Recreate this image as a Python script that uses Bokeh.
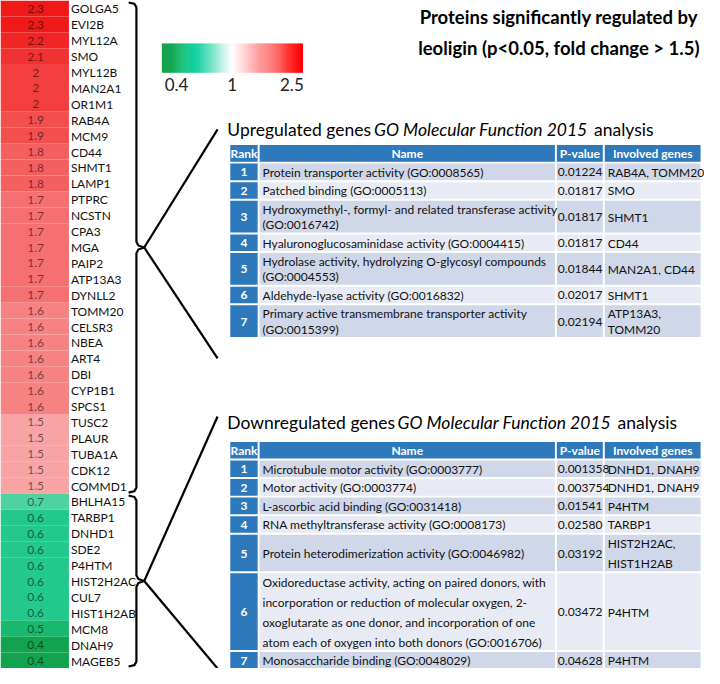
from bokeh.plotting import figure
from bokeh.core.properties import value
from bokeh.embed import file_html
from bokeh.resources import INLINE
import numpy as np

# ---------------- data ----------------
up_genes = ["GOLGA5", "EVI2B", "MYL12A", "SMO", "MYL12B", "MAN2A1", "OR1M1", "RAB4A", "MCM9",
            "CD44", "SHMT1", "LAMP1", "PTPRC", "NCSTN", "CPA3", "MGA", "PAIP2", "ATP13A3",
            "DYNLL2", "TOMM20", "CELSR3", "NBEA", "ART4", "DBI", "CYP1B1", "SPCS1", "TUSC2",
            "PLAUR", "TUBA1A", "CDK12", "COMMD1"]
up_fc = [2.3, 2.3, 2.2, 2.1, 2, 2, 2, 1.9, 1.9, 1.8, 1.8, 1.8, 1.7, 1.7, 1.7, 1.7, 1.7, 1.7,
         1.7, 1.6, 1.6, 1.6, 1.6, 1.6, 1.6, 1.6, 1.5, 1.5, 1.5, 1.5, 1.5]
down_genes = ["BHLHA15", "TARBP1", "DNHD1", "SDE2", "P4HTM", "HIST2H2AC", "CUL7", "HIST1H2AB",
              "MCM8", "DNAH9", "MAGEB5"]
down_fc = [0.7, 0.6, 0.6, 0.6, 0.6, 0.6, 0.6, 0.6, 0.5, 0.4, 0.4]

scale_ticks = [0.4, 1, 2.5]

up_rank = [1, 2, 3, 4, 5, 6, 7]
up_name = ["Protein transporter activity (GO:0008565)",
           "Patched binding (GO:0005113)",
           "Hydroxymethyl-, formyl- and related transferase activity\n(GO:0016742)",
           "Hyaluronoglucosaminidase activity (GO:0004415)",
           "Hydrolase activity, hydrolyzing O-glycosyl compounds\n(GO:0004553)",
           "Aldehyde-lyase activity (GO:0016832)",
           "Primary active transmembrane transporter activity\n(GO:0015399)"]
up_pvalue = ["0.01224", "0.01817", "0.01817", "0.01817", "0.01844", "0.02017", "0.02194"]
up_involved = ["RAB4A, TOMM20", "SMO", "SHMT1", "CD44", "MAN2A1, CD44", "SHMT1",
               "ATP13A3,\nTOMM20"]

down_rank = [1, 2, 3, 4, 5, 6, 7]
down_name = ["Microtubule motor activity (GO:0003777)",
             "Motor activity (GO:0003774)",
             "L-ascorbic acid binding (GO:0031418)",
             "RNA methyltransferase activity (GO:0008173)",
             "Protein heterodimerization activity (GO:0046982)",
             "Oxidoreductase activity, acting on paired donors, with\nincorporation or reduction of molecular oxygen, 2-\noxoglutarate as one donor, and incorporation of one\natom each of oxygen into both donors (GO:0016706)",
             "Monosaccharide binding (GO:0048029)"]
down_pvalue = ["0.001358", "0.003754", "0.01541", "0.02580", "0.03192", "0.03472", "0.04628"]
down_involved = ["DNHD1, DNAH9", "DNHD1, DNAH9", "P4HTM", "TARBP1", "HIST2H2AC,\nHIST1H2AB",
                 "P4HTM", "P4HTM"]

table_headers = ["Rank", "Name", "P-value", "Involved genes"]

# ---------------- colour maps ----------------
_stops_v = [0.4, 0.5, 0.6, 0.7, 1.0, 1.5, 1.6, 2.0, 2.5]
_stops_rgb = np.array([[18, 163, 78], [24, 185, 110], [34, 200, 140], [78, 210, 162],
                       [255, 255, 255], [248, 164, 164], [246, 130, 130], [242, 62, 62],
                       [238, 0, 0]], dtype=float)


def fc_color(v):
    rgb = [np.interp(v, _stops_v, _stops_rgb[:, k]) for k in range(3)]
    return "#%02x%02x%02x" % tuple(int(round(c)) for c in rgb)


_bar_f = [0.0, 0.08, 0.22, 0.5, 1.0]
_bar_rgb = np.array([[22, 163, 74], [20, 170, 85], [0, 205, 150], [255, 255, 255], [255, 0, 0]],
                    dtype=float)


def bar_color(f):
    rgb = [np.interp(f, _bar_f, _bar_rgb[:, k]) for k in range(3)]
    return "#%02x%02x%02x" % tuple(int(round(c)) for c in rgb)


FONT = "Lato"

p = figure(width=704, height=668, x_range=(0, 720), y_range=(684, 0),
           output_backend="svg", toolbar_location=None,
           x_axis_location=None, y_axis_location=None, min_border=0)
p.grid.visible = False
p.outline_line_color = None
p.background_fill_color = "white"

# ---------------- heat-map column ----------------
genes = up_genes + down_genes
fcs = up_fc + down_fc
n = len(genes)
rh = 684.0 / n
tops = [i * rh for i in range(n)]
bots = [(i + 1) * rh for i in range(n)]
mids = [(i + 0.5) * rh + 0.5 for i in range(n)]
p.quad(left=0, right=70, top=tops, bottom=bots, fill_color=[fc_color(v) for v in fcs],
       line_color=None)
p.text(x=36, y=mids, text=[f"{v:g}" for v in fcs], text_align="center",
       text_baseline="middle", text_font=value(FONT), text_font_size="12px",
       text_color="black", text_alpha=0.55)
p.text(x=72, y=mids, text=genes, text_align="left", text_baseline="middle",
       text_font=value(FONT), text_font_size="12px", text_color="#111111")


# ---------------- brackets ----------------
def bracket(y0, y1):
    m = (y0 + y1) / 2
    xs = [131, 137, 139, 139, 141, 147, 141, 139, 139, 137, 131]
    ys = [y0, y0 + 1.5, y0 + 5, m - 6, m - 2, m, m + 2, m + 6, y1 - 5, y1 - 1.5, y1]
    p.line(xs, ys, line_color="black", line_width=2.2)
    return m


nu = len(up_genes)
m_up = bracket(tops[0] + 2, bots[nu - 1] - 1)
m_dn = bracket(tops[nu] + 2, bots[-1] - 2)

# ---------------- colour bar ----------------
cb_l, cb_r, cb_t, cb_b = 165, 309, 44, 74
nseg = 144
fr = np.linspace(0, 1, nseg)
w = (cb_r - cb_l) / nseg
p.quad(left=[cb_l + i * w for i in range(nseg)], right=[cb_l + (i + 1) * w + 0.4 for i in range(nseg)],
       top=cb_t, bottom=cb_b, fill_color=[bar_color(f) for f in fr], line_color=None)
tick_x = [cb_l + 15, (cb_l + cb_r) / 2, cb_r - 11]
p.text(x=tick_x, y=86, text=[f"{t:g}" for t in scale_ticks], text_align="center",
       text_baseline="middle", text_font=value(FONT), text_font_size="17px", text_color="#222222")

# ---------------- title ----------------
p.text(x=[571, 571], y=[17, 49],
       text=["Proteins significantly regulated by", "leoligin (p<0.05, fold change > 1.5)"],
       text_align="center", text_baseline="middle", text_font=value(FONT),
       text_font_size="18.5px", text_font_style="bold", text_color="black")


# ---------------- tables ----------------
cols = [(235, 263), (265, 567), (569, 616), (618, 716)]
HEAD_BLUE = "#2E78BC"
ROW_A = "#CFD7E8"
ROW_B = "#E8EBF3"
TFS = "12px"


def heading(y, first, x0, x_it, x_an):
    p.text(x=x0, y=y, text=[first], text_baseline="middle", text_font=value(FONT),
           text_font_size="17.5px", text_color="black")
    p.text(x=x_it, y=y, text=["GO Molecular Function 2015"], text_baseline="middle",
           text_font=value(FONT), text_font_size="17.5px", text_font_style="italic",
           text_color="black")
    p.text(x=x_an, y=y, text=["analysis"], text_baseline="middle", text_font=value(FONT),
           text_font_size="17.5px", text_color="black")


def table(top, ranks, names, pvals, invs, base_h, line_h):
    L, R, T, B, C = [], [], [], [], []
    hh = 17
    for (l, r) in cols:
        L.append(l); R.append(r); T.append(top); B.append(top + hh); C.append(HEAD_BLUE)
    y = top + hh + 2
    ymid = []
    tx, ty, tt = [], [], []
    for i, (nm, pv, iv) in enumerate(zip(names, pvals, invs)):
        nl = max(nm.count("\n"), iv.count("\n")) + 1
        h = base_h + line_h * (nl - 1)
        fill = ROW_A if i % 2 == 0 else ROW_B
        for j, (l, r) in enumerate(cols):
            L.append(l); R.append(r); T.append(y); B.append(y + h)
            C.append(HEAD_BLUE if j == 0 else fill)
        ym = y + h / 2 + 0.5
        ymid.append(ym)
        for cx, s in ((cols[1][0] + 3, nm), (cols[2][0] + 1, pv), (cols[3][0] + 3, iv)):
            parts = s.split("\n")
            k = len(parts)
            for q, part in enumerate(parts):
                tx.append(cx); ty.append(ym + (q - (k - 1) / 2) * line_h); tt.append(part)
        y += h + 2
    p.quad(left=L, right=R, top=T, bottom=B, fill_color=C, line_color=None)
    p.text(x=[(l + r) / 2 for (l, r) in cols], y=top + hh / 2 + 0.5, text=table_headers,
           text_align="center", text_baseline="middle", text_font=value(FONT),
           text_font_size=TFS, text_font_style="bold", text_color="white")
    p.text(x=(cols[0][0] + cols[0][1]) / 2, y=ymid, text=[str(r) for r in ranks],
           text_align="center", text_baseline="middle", text_font=value(FONT),
           text_font_size=TFS, text_font_style="bold", text_color="white")
    p.text(x=tx, y=ty, text=tt, text_align="left", text_baseline="middle",
           text_font=value(FONT), text_font_size=TFS, text_color="#111111")
    return y - 2


heading(132, "Upregulated genes", 232, 382, 607)
up_top = 148
up_bot = table(up_top, up_rank, up_name, up_pvalue, up_involved, 17, 15.5)

heading(432, "Downregulated genes", 232, 406, 631)
dn_top = 452
dn_bot = table(dn_top, down_rank, down_name, down_pvalue, down_involved, 17, 20.5)

# connector lines from bracket tips to tables
p.line([147, 222], [m_up, 132], line_color="black", line_width=2.2)
p.line([147, 222], [m_up, up_bot + 22], line_color="black", line_width=2.2)
p.line([147, 222], [m_dn, 426], line_color="black", line_width=2.2)
p.line([147, 222], [m_dn, min(dn_bot + 2, 684)], line_color="black", line_width=2.2)

open("out.html", "w").write(file_html(p, INLINE))
